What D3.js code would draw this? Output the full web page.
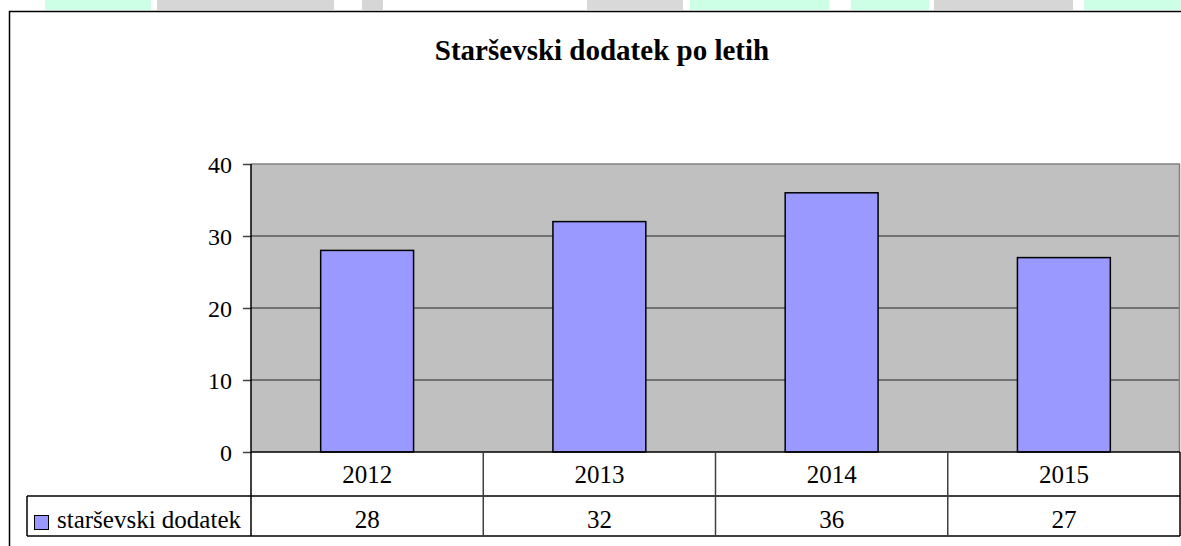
<!DOCTYPE html>
<html>
<head>
  <meta charset="utf-8">
  <title>Starševski dodatek po letih</title>
  <script src="https://d3js.org/d3.v7.min.js"></script>
  <style>
    body { margin: 0; background: #fff; }
    text { font-family: "Liberation Serif", "Times New Roman", serif; fill: #000; }
  </style>
</head>
<body>
  <script>
    var w = 1181;
    var h = 546;
    var years = ["2012", "2013", "2014", "2015"];
    var values = [28, 32, 36, 27];
    var yTicks = [0, 10, 20, 30, 40];
    var seriesName = "starševski dodatek";
    var title = "Starševski dodatek po letih";
    // leftover page fragments above the chart frame
    var stripColors = ["#ccffe6", "#d6d6d6", "#d6d6d6", "#d9d9d9", "#ccffe6", "#ccffe6", "#ccffe6", "#d6d6d6", "#ccffe6"];
    var stripX = [45, 157, 362, 587, 690, 780, 851, 934, 1084];
    var stripW = [106, 177, 21, 96, 90, 49, 78, 139, 97];

    var svg = d3.select("body").append("svg").attr("width", w).attr("height", h);

    svg.selectAll("rect.strip").data(stripX).enter().append("rect")
      .attr("class", "strip")
      .attr("x", function(d){return d;})
      .attr("y", 0)
      .attr("width", function(d, i){return stripW[i];})
      .attr("height", 10)
      .attr("fill", function(d, i){return stripColors[i];});

    // chart frame (runs off the right and bottom of the picture)
    svg.append("rect").attr("x", 9.5).attr("y", 11.5).attr("width", 1200).attr("height", 600)
      .attr("fill", "#fff").attr("stroke", "#000").attr("stroke-width", 1.5);

    svg.append("text").attr("x", 602).attr("y", 60).attr("text-anchor", "middle")
      .style("font-size", "29px").style("font-weight", "bold").text(title);

    var pLeft = 251, pRight = 1180, pTop = 164, pBottom = 452;
    var x = d3.scaleBand().domain(years).range([pLeft, pRight]).paddingInner(0.6).paddingOuter(0.3);
    var xCell = d3.scaleBand().domain(years).range([pLeft, pRight]);
    var y = d3.scaleLinear().domain([0, 40]).range([pBottom, pTop]);

    svg.append("rect").attr("x", pLeft).attr("y", pTop).attr("width", pRight - pLeft).attr("height", pBottom - pTop)
      .attr("fill", "#c0c0c0");

    svg.selectAll("line.grid").data(yTicks.slice(1)).enter().append("line")
      .attr("class", "grid")
      .attr("x1", pLeft).attr("x2", pRight)
      .attr("y1", function(d){return y(d);}).attr("y2", function(d){return y(d);})
      .attr("stroke", function(d){return d === 40 ? "#808080" : "#5a5a5a";})
      .attr("stroke-width", 1.5);
    svg.append("line").attr("x1", pRight - 0.5).attr("x2", pRight - 0.5).attr("y1", pTop).attr("y2", pBottom)
      .attr("stroke", "#808080").attr("stroke-width", 1.5);

    svg.selectAll("rect.bar").data(values).enter().append("rect")
      .attr("class", "bar")
      .attr("x", function(d, i){return x(years[i]);})
      .attr("y", function(d){return y(d);})
      .attr("width", x.bandwidth())
      .attr("height", function(d){return y(0) - y(d);})
      .attr("fill", "#9999ff").attr("stroke", "#000").attr("stroke-width", 1.5);

    // y axis
    var yAxis = svg.append("g").attr("transform", "translate(" + pLeft + ",0)")
      .call(d3.axisLeft(y).tickValues(yTicks).tickSize(8).tickPadding(11));
    yAxis.select(".domain").remove();
    yAxis.selectAll("line").attr("stroke", "#404040").attr("stroke-width", 1.5);
    yAxis.selectAll("text").style("font-size", "24px").attr("font-family", null).attr("dy", "0.36em");

    // data table under the plot
    var tbl = svg.append("g").attr("stroke", "#000").attr("stroke-width", 1.5);
    tbl.append("line").attr("x1", pLeft).attr("x2", pLeft).attr("y1", pTop).attr("y2", 536);
    tbl.append("line").attr("x1", pLeft).attr("x2", pRight).attr("y1", pBottom).attr("y2", pBottom);
    tbl.append("line").attr("x1", 27).attr("x2", pRight).attr("y1", 496).attr("y2", 496);
    tbl.append("line").attr("x1", 27).attr("x2", pRight).attr("y1", 536).attr("y2", 536);
    tbl.append("line").attr("x1", 27).attr("x2", 27).attr("y1", 496).attr("y2", 536);
    tbl.selectAll("line.div").data(years).enter().append("line")
      .attr("class", "div")
      .attr("x1", function(d){return xCell(d) + xCell.bandwidth();})
      .attr("x2", function(d){return xCell(d) + xCell.bandwidth();})
      .attr("y1", pBottom).attr("y2", 536)
      .attr("stroke", function(d, i){return i === years.length - 1 ? "#000" : "#404040";});

    svg.selectAll("text.cat").data(years).enter().append("text")
      .attr("class", "cat")
      .attr("x", function(d){return xCell(d) + xCell.bandwidth() / 2;})
      .attr("y", 483).attr("text-anchor", "middle").style("font-size", "25px")
      .text(function(d){return d;});

    svg.selectAll("text.val").data(values).enter().append("text")
      .attr("class", "val")
      .attr("x", function(d, i){return xCell(years[i]) + xCell.bandwidth() / 2;})
      .attr("y", 528).attr("text-anchor", "middle").style("font-size", "25px")
      .text(function(d){return d;});

    svg.append("rect").attr("x", 34.5).attr("y", 515.5).attr("width", 14).attr("height", 14)
      .attr("fill", "#9999ff").attr("stroke", "#000").attr("stroke-width", 1);
    svg.append("text").attr("x", 57).attr("y", 528).style("font-size", "25px").text(seriesName);
  </script>
</body>
</html>
